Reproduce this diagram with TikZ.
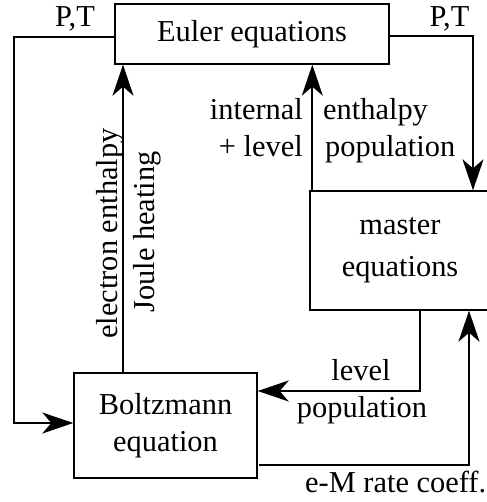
\documentclass[tikz,border=0pt]{standalone}
\usepackage{fontspec}
\setmainfont{Liberation Serif}
\usetikzlibrary{arrows.meta}
\begin{document}
\begin{tikzpicture}[x=1pt,y=-1pt,
  box/.style={draw,line width=1.4pt,inner sep=0pt,align=center,font=\fontsize{30.4}{37}\selectfont},
  conn/.style={line width=1.8pt,-{Stealth[length=31pt,width=21pt,inset=9pt]}},
  lbl/.style={inner sep=0pt,font=\fontsize{30.4}{37}\selectfont}]
\useasboundingbox (0,0) rectangle (486,502);
\node[box,minimum width=274pt,minimum height=60pt] (euler) at (252,34) {Euler equations};
\node[box,minimum width=180pt,minimum height=119pt] (master) at (400,250.5) {master\\[5pt]equations};
\node[box,minimum width=183pt,minimum height=105pt] (boltz) at (165.5,425.5) {Boltzmann\\equation};
% left P,T loop
\draw[conn] ([yshift=-3pt]euler.west) -| (14,423) coordinate (lc) -- (lc -| boltz.west);
% right P,T loop
\draw[conn] ([yshift=-2pt]euler.east) -| ([xshift=73pt]master.north);
% Boltzmann -> Euler
\draw[conn] ([xshift=-42.5pt]boltz.north) -- ([xshift=-42.5pt]boltz.north |- euler.south);
% master -> Euler
\draw[conn] ([xshift=3pt]master.north west) -- ([xshift=3pt]master.north west |- euler.south);
% master -> Boltzmann
\draw[conn] ([xshift=20pt]master.south) |- ([yshift=34.5pt]boltz.east);
% Boltzmann -> master
\draw[conn] ([xshift=1pt,yshift=-39.5pt]boltz.east) -| ([xshift=69pt]master.south);
% labels
\node[lbl,anchor=base] (pt1) at (75,27) {P,T};
\node[lbl,anchor=base] (pt2) at (449.5,27) {P,T};
\node[lbl,anchor=base east] (int) at (303,120) {internal};
\node[lbl,anchor=base east] (lev) at (303,157) {+ level};
\node[lbl,anchor=base west] (ent) at (323,120) {enthalpy};
\node[lbl,anchor=base west] (pop) at (325,157) {population};
\node[lbl,anchor=base,rotate=90] (ee) at (117,233.5) {electron enthalpy};
\node[lbl,anchor=base,rotate=90] (jh) at (154,232) {Joule heating};
\node[lbl,anchor=base] (lv2) at (361,380) {level};
\node[lbl,anchor=base] (pp2) at (362,417) {population};
\node[lbl,anchor=base west] (em) at (305,492) {e-M rate coeff.};
\end{tikzpicture}
\end{document}
